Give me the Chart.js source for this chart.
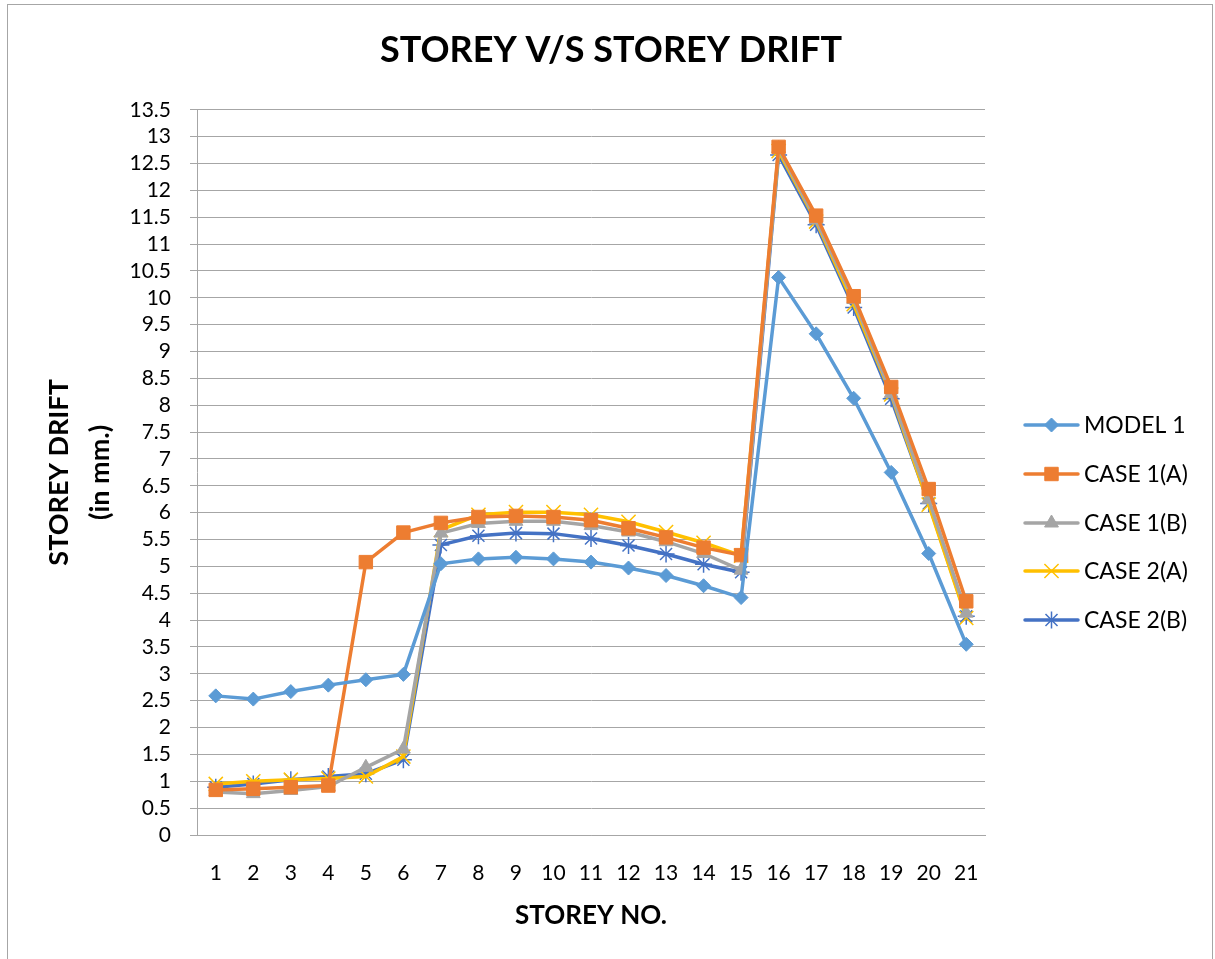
<!DOCTYPE html>
<html>
<head>
<meta charset="utf-8">
<script src="https://cdn.jsdelivr.net/npm/chart.js@4.4.1/dist/chart.umd.min.js"></script>
<style>
html,body{margin:0;padding:0;background:#fff;}
#wrap{position:relative;width:1215px;height:959px;}
</style>
</head>
<body>
<div id="wrap"><canvas id="c" width="1215" height="959"></canvas></div>
<script>
const storeys = ['1','2','3','4','5','6','7','8','9','10','11','12','13','14','15','16','17','18','19','20','21'];
const model1  = [2.59,2.53,2.67,2.79,2.89,2.99,5.05,5.14,5.17,5.14,5.08,4.97,4.83,4.64,4.42,10.38,9.33,8.13,6.75,5.24,3.55];
const case1A  = [0.84,0.86,0.89,0.92,5.08,5.63,5.81,5.92,5.94,5.92,5.86,5.71,5.54,5.35,5.21,12.81,11.53,10.03,8.34,6.44,4.35];
const case1B  = [0.80,0.77,0.83,0.90,1.26,1.60,5.62,5.80,5.84,5.84,5.76,5.64,5.46,5.24,4.93,12.78,11.45,9.97,8.22,6.25,4.13];
const case2A  = [0.95,1.00,1.03,1.05,1.09,1.46,5.68,5.96,6.01,6.01,5.96,5.83,5.64,5.44,5.20,12.73,11.42,9.88,8.20,6.15,4.04];
const case2B  = [0.89,0.95,1.03,1.09,1.14,1.40,5.40,5.57,5.62,5.61,5.52,5.39,5.23,5.04,4.89,12.66,11.36,9.82,8.12,6.17,4.07];
const yMin = 0, yMax = 13.5, yStep = 0.5;
const chartTitle = 'STOREY V/S STOREY DRIFT';

const FONT = 'Lato, "Open Sans", sans-serif';

const seriesDefs = [
  {label:'MODEL 1',   data:model1, color:'#5B9BD5', style:'rectRot',  r:7},
  {label:'CASE 1(A)', data:case1A, color:'#ED7D31', style:'rect',     r:9.5},
  {label:'CASE 1(B)', data:case1B, color:'#A5A5A5', style:'triangle', r:8},
  {label:'CASE 2(A)', data:case2A, color:'#FFC000', style:'crossRot', r:10},
  {label:'CASE 2(B)', data:case2B, color:'#4472C4', style:'star',     r:8.5}
];

const datasets = seriesDefs.map(s => ({
  label: s.label,
  data: s.data,
  borderColor: s.color,
  backgroundColor: s.color,
  pointBackgroundColor: s.color,
  pointBorderColor: s.color,
  pointStyle: s.style,
  pointRadius: s.r,
  pointHoverRadius: s.r,
  pointBorderWidth: (s.style==='crossRot'||s.style==='star') ? 1.5 : 1,
  borderWidth: 3.5,
  tension: 0,
  fill: false
}));

const framePlugin = {
  id:'frame',
  beforeDraw(chart){
    const ctx = chart.ctx;
    ctx.save();
    ctx.fillStyle='#fff';
    ctx.fillRect(0,0,chart.width,chart.height);
    ctx.strokeStyle='#A6A6A6';
    ctx.lineWidth=1;
    ctx.strokeRect(7.5,4.5,1205,990);
    ctx.restore();
  },
  afterDraw(chart){
    const ctx = chart.ctx;
    ctx.save();
    ctx.fillStyle='#000';
    ctx.font = 'bold 36px ' + FONT;
    ctx.textAlign='center';
    ctx.textBaseline='alphabetic';
    ctx.fillText(chartTitle, 611, 62);
    ctx.restore();
  }
};

const legendPlugin = {
  id:'customLegend',
  afterDraw(chart){
    const ctx = chart.ctx;
    const x0 = 1025, x1 = 1078, tx = 1084;
    const ys = [425, 474, 523, 571, 620];
    ctx.save();
    chart.data.datasets.forEach((ds,i)=>{
      const y = ys[i];
      ctx.strokeStyle = ds.borderColor;
      ctx.lineWidth = 3.5;
      ctx.lineCap = 'round';
      ctx.beginPath(); ctx.moveTo(x0,y); ctx.lineTo(x1,y); ctx.stroke();
      ctx.lineCap = 'butt';
      ctx.fillStyle = ds.pointBackgroundColor;
      ctx.strokeStyle = ds.pointBorderColor;
      ctx.lineWidth = ds.pointBorderWidth;
      Chart.helpers.drawPoint(ctx, {pointStyle: ds.pointStyle, radius: ds.pointRadius, rotation:0, borderWidth: ds.pointBorderWidth}, (x0+x1)/2, y);
      ctx.fillStyle = '#000';
      ctx.font = '23px ' + FONT;
      ctx.textAlign = 'left';
      ctx.textBaseline = 'middle';
      ctx.fillText(ds.label, tx, y+1);
    });
    ctx.restore();
  }
};

new Chart(document.getElementById('c'), {
  type:'line',
  data:{labels:storeys, datasets},
  plugins:[framePlugin, legendPlugin],
  options:{
    responsive:false,
    animation:false,
    devicePixelRatio:1,
    layout:{padding:{left:0,right:230,top:0,bottom:0}},
    plugins:{
      legend:{display:false},
      tooltip:{enabled:false},
      title:{
        display:true,
        text:' ',
        color:'rgba(0,0,0,0)',
        font:{family:FONT, size:34, weight:'bold', lineHeight:1.2},
        padding:{top:32,bottom:37}
      }
    },
    scales:{
      x:{
        offset:true,
        grid:{display:false},
        border:{display:true,color:'#A6A6A6',width:1},
        ticks:{color:'#000', font:{family:FONT,size:21}, padding:18, maxRotation:0, autoSkip:false},
        title:{display:true,text:'STOREY NO.',color:'#000',font:{family:FONT,size:26,weight:'bold',lineHeight:1.2},padding:{top:0,bottom:28}},
        afterFit(s){ s.height = 124; }
      },
      y:{
        min:yMin, max:yMax,
        grid:{color:'#A6A6A6', lineWidth:1, drawTicks:true, tickLength:7},
        border:{display:true,color:'#A6A6A6',width:1},
        ticks:{stepSize:yStep, color:'#000', font:{family:FONT,size:21}, padding:19, autoSkip:false,
               callback:(v)=>String(+v)},
        title:{display:true,text:['STOREY DRIFT','(in mm.)'],color:'#000',font:{family:FONT,size:27,weight:'bold',lineHeight:1.55},padding:{top:38,bottom:0}},
        afterFit(s){ s.width = 197; }
      }
    }
  }
});
</script>
</body>
</html>
